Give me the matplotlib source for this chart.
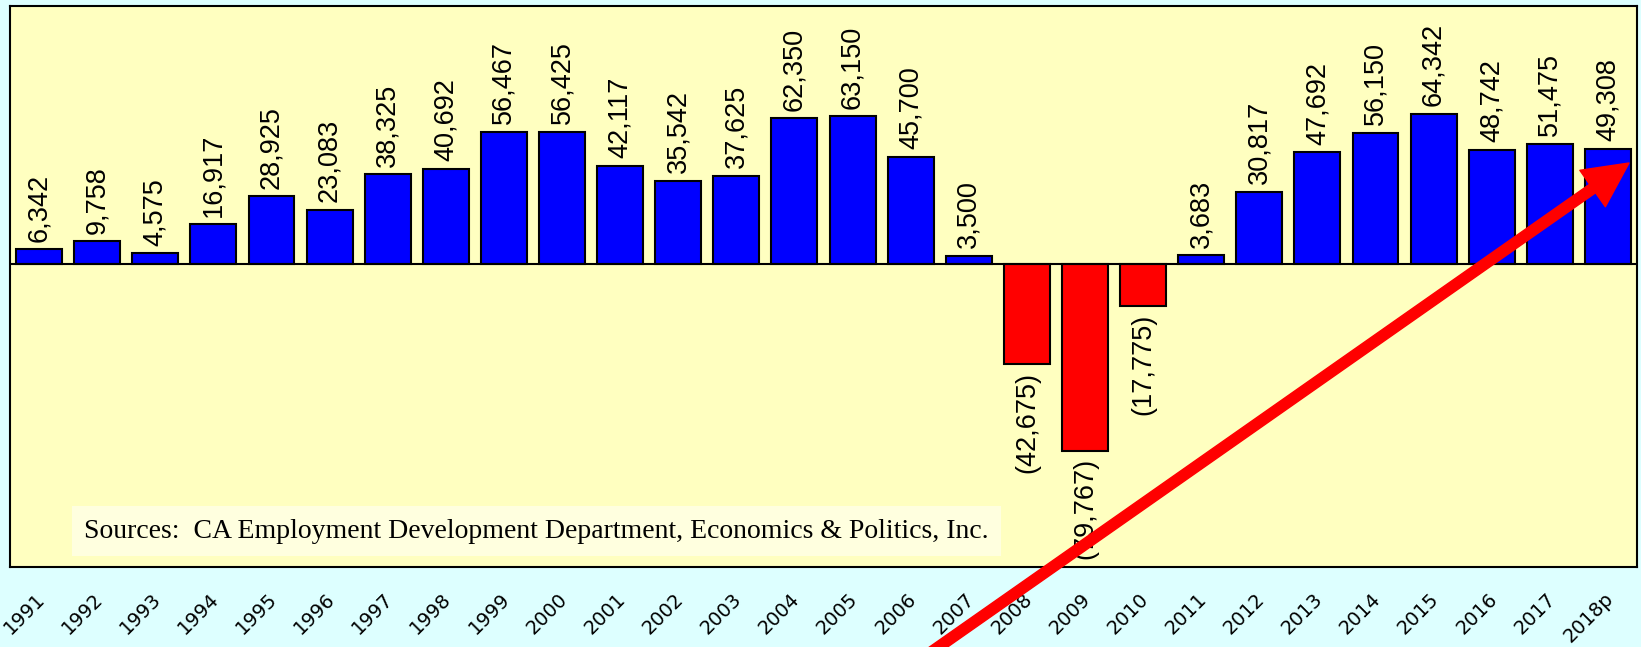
import matplotlib
matplotlib.use("Agg")
import matplotlib.pyplot as plt

years = ["1991", "1992", "1993", "1994", "1995", "1996", "1997", "1998", "1999", "2000",
         "2001", "2002", "2003", "2004", "2005", "2006", "2007", "2008", "2009", "2010",
         "2011", "2012", "2013", "2014", "2015", "2016", "2017", "2018p"]
job_change = [6342, 9758, 4575, 16917, 28925, 23083, 38325, 40692, 56467, 56425,
              42117, 35542, 37625, 62350, 63150, 45700, 3500, -42675, -79767, -17775,
              3683, 30817, 47692, 56150, 64342, 48742, 51475, 49308]
source_note = "Sources:  CA Employment Development Department, Economics & Politics, Inc."

W, H = 1641, 647
fig = plt.figure(figsize=(W / 100, H / 100), dpi=100, facecolor="#ddffff")
ax = fig.add_axes([10 / W, 1 - 567 / H, 1627 / W, 561 / H])
ax.set_facecolor("#ffffc0")

x = list(range(len(years)))
colors = ["#0000ff" if v >= 0 else "#ff0000" for v in job_change]
ax.bar(x, job_change, width=0.79, color=colors, edgecolor="black", linewidth=1.5, zorder=2)
ax.axhline(0, color="black", linewidth=1.5, zorder=3)

for xi, v in zip(x, job_change):
    if v >= 0:
        ax.annotate(f"{v:,}", (xi, v), xytext=(0, 5.5), textcoords="offset points",
                    rotation=90, ha="center", va="bottom", fontsize=19.5,
                    family="Liberation Sans")
    else:
        ax.annotate(f"({-v:,})", (xi, v), xytext=(0, -5.5), textcoords="offset points",
                    rotation=90, ha="center", va="top", fontsize=19.5,
                    family="Liberation Sans")

ax.set_xlim(-0.5, len(years) - 0.5)
ax.set_ylim(-129500, 110300)
ax.set_yticks([])
ax.set_xticks([xi + 0.16 for xi in x])
ax.set_xticklabels(years, rotation=45, ha="right", va="top", fontsize=14,
                   family="DejaVu Sans")
ax.tick_params(axis="x", length=0, pad=16)
for spine in ax.spines.values():
    spine.set_linewidth(1.5)

# source note box, placed in figure pixels (from bottom-left)
ax.text(84, H - 531, source_note, transform=None, fontsize=20, family="Liberation Serif",
        va="center", ha="left",
        bbox=dict(boxstyle="square,pad=0.45", facecolor="#ffffdf", edgecolor="none"))

# red trend arrow drawn over everything, in figure pixels
ax.annotate("", xy=(1629, H - 163), xycoords="figure pixels",
            xytext=(910, -20), textcoords="figure pixels",
            arrowprops=dict(facecolor="#ff0000", edgecolor="#ff0000", width=7.5,
                            headwidth=32, headlength=32, shrink=0),
            annotation_clip=False, zorder=10)

fig.savefig("out.png", dpi=100, facecolor=fig.get_facecolor())
